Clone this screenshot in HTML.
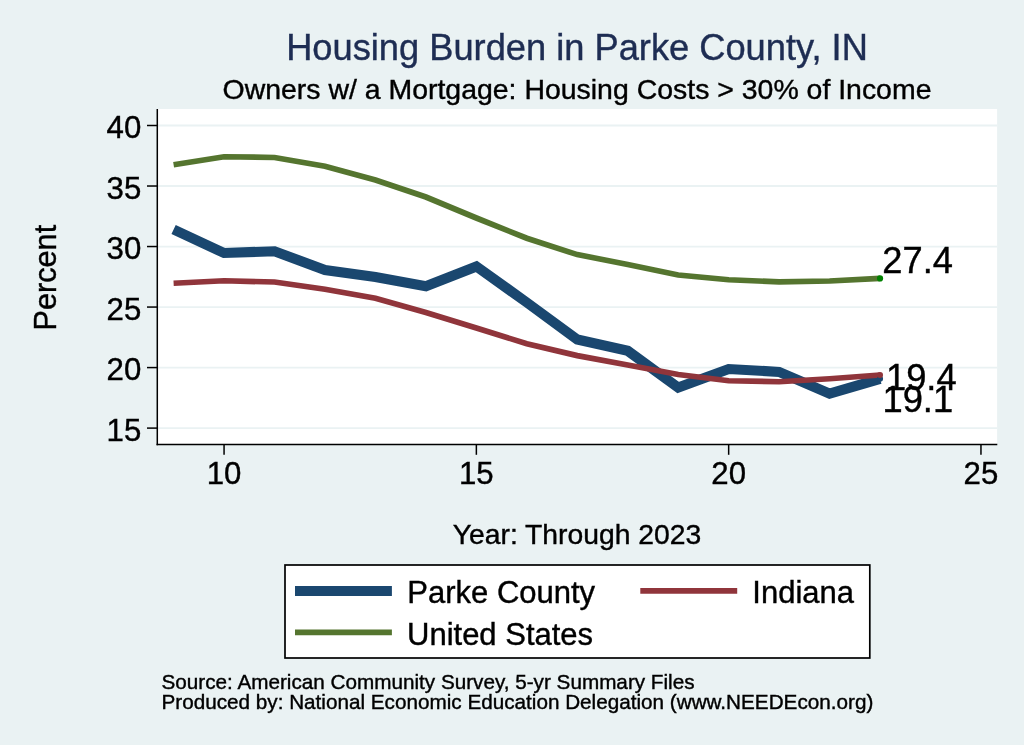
<!DOCTYPE html>
<html lang="en"><head><meta charset="utf-8"><title>Housing Burden in Parke County, IN</title>
<style>
html,body{margin:0;padding:0;background:#eaf2f3;}
body{width:1024px;height:745px;overflow:hidden;}
svg{display:block;will-change:transform;font-family:"Liberation Sans",Arial,Helvetica,sans-serif;}
</style></head><body>
<svg width="1024" height="745" viewBox="0 0 1024 745">
<rect x="0" y="0" width="1024" height="745" fill="#eaf2f3"/>
<rect x="157.3" y="109" width="839.8" height="335.4" fill="#ffffff"/>
<line x1="158" x2="997" y1="125.5" y2="125.5" stroke="#eaf2f3" stroke-width="1.8"/><line x1="158" x2="997" y1="186.02" y2="186.02" stroke="#eaf2f3" stroke-width="1.8"/><line x1="158" x2="997" y1="246.54" y2="246.54" stroke="#eaf2f3" stroke-width="1.8"/><line x1="158" x2="997" y1="307.06" y2="307.06" stroke="#eaf2f3" stroke-width="1.8"/><line x1="158" x2="997" y1="367.58" y2="367.58" stroke="#eaf2f3" stroke-width="1.8"/><line x1="158" x2="997" y1="428.1" y2="428.1" stroke="#eaf2f3" stroke-width="1.8"/>
<polyline points="173.6,164.75 224.06,156.75 274.52,157.5 324.98,166.25 375.44,180 425.9,197 476.36,218 526.82,238.25 577.28,254.6 627.74,264.5 678.2,275 728.66,279.75 779.12,281.9 829.58,281 880.04,278.4" fill="none" stroke="#55752f" stroke-width="5.7" stroke-linejoin="miter"/>
<polyline points="173.6,229.5 224.06,253 274.52,251.25 324.98,270 375.44,277 425.9,286.25 476.36,266.5 526.82,302.5 577.28,339.5 627.74,350.8 678.2,387.5 728.66,369 779.12,371.9 829.58,393.7 880.04,378.8" fill="none" stroke="#1a476f" stroke-width="10.1" stroke-linejoin="miter"/>
<polyline points="173.6,283.25 224.06,280.75 274.52,282 324.98,289.25 375.44,298.25 425.9,312.5 476.36,328 526.82,343.75 577.28,355.6 627.74,365 678.2,374.5 728.66,380.75 779.12,381.75 829.58,378.75 880.04,375" fill="none" stroke="#90353b" stroke-width="5.7" stroke-linejoin="miter"/>
<circle cx="880.04" cy="378.8" r="3" fill="#1a476f"/>
<circle cx="880.04" cy="375" r="3" fill="#90353b"/>
<circle cx="880.04" cy="278.4" r="3.1" fill="#008000"/>
<line x1="157.3" x2="157.3" y1="109" y2="445.15" stroke="#000" stroke-width="1.5"/>
<line x1="156.55" x2="997.3" y1="444.4" y2="444.4" stroke="#000" stroke-width="1.5"/>
<line x1="147" x2="157.3" y1="125.5" y2="125.5" stroke="#000" stroke-width="1.5"/><line x1="147" x2="157.3" y1="186.02" y2="186.02" stroke="#000" stroke-width="1.5"/><line x1="147" x2="157.3" y1="246.54" y2="246.54" stroke="#000" stroke-width="1.5"/><line x1="147" x2="157.3" y1="307.06" y2="307.06" stroke="#000" stroke-width="1.5"/><line x1="147" x2="157.3" y1="367.58" y2="367.58" stroke="#000" stroke-width="1.5"/><line x1="147" x2="157.3" y1="428.1" y2="428.1" stroke="#000" stroke-width="1.5"/><line x1="224.06" x2="224.06" y1="444.4" y2="454.8" stroke="#000" stroke-width="1.5"/><line x1="476.36" x2="476.36" y1="444.4" y2="454.8" stroke="#000" stroke-width="1.5"/><line x1="728.66" x2="728.66" y1="444.4" y2="454.8" stroke="#000" stroke-width="1.5"/><line x1="980.96" x2="980.96" y1="444.4" y2="454.8" stroke="#000" stroke-width="1.5"/>
<g fill="#000" stroke="#000" stroke-width="0.4">
<text x="141.3" y="138.3" text-anchor="end" font-size="31.2">40</text><text x="141.3" y="198.82000000000002" text-anchor="end" font-size="31.2">35</text><text x="141.3" y="259.34" text-anchor="end" font-size="31.2">30</text><text x="141.3" y="319.86" text-anchor="end" font-size="31.2">25</text><text x="141.3" y="380.38" text-anchor="end" font-size="31.2">20</text><text x="141.3" y="440.90000000000003" text-anchor="end" font-size="31.2">15</text>
<text x="224.06" y="484.2" text-anchor="middle" font-size="31.2">10</text><text x="476.36" y="484.2" text-anchor="middle" font-size="31.2">15</text><text x="728.66" y="484.2" text-anchor="middle" font-size="31.2">20</text><text x="980.96" y="484.2" text-anchor="middle" font-size="31.2">25</text>
<text x="882.3" y="273" font-size="36.3">27.4</text>
<text x="886" y="389.7" font-size="36.3">19.4</text>
<text x="882.5" y="412" font-size="36.3">19.1</text>
<text x="577" y="98.7" text-anchor="middle" font-size="28.45">Owners w/ a Mortgage: Housing Costs &gt; 30% of Income</text>
<text x="577" y="543.7" text-anchor="middle" font-size="28.3">Year: Through 2023</text>
<text transform="translate(55.9,277.7) rotate(-90)" text-anchor="middle" font-size="30.7">Percent</text>
<text x="161.5" y="688.9" font-size="20.7">Source: American Community Survey, 5-yr Summary Files</text>
<text x="161.5" y="708.8" font-size="20.7">Produced by: National Economic Education Delegation (www.NEEDEcon.org)</text>
</g>
<text x="577" y="60.1" text-anchor="middle" font-size="36.25" fill="#1e2d53" stroke="#1e2d53" stroke-width="0.4">Housing Burden in Parke County, IN</text>
<rect x="285" y="565" width="584.8" height="93" fill="#ffffff" stroke="#000" stroke-width="1.7"/>
<line x1="295" x2="391.9" y1="590.95" y2="590.95" stroke="#1a476f" stroke-width="10.1"/>
<line x1="640.3" x2="737.2" y1="590.95" y2="590.95" stroke="#90353b" stroke-width="5.7"/>
<line x1="295" x2="391.9" y1="632.35" y2="632.35" stroke="#55752f" stroke-width="5.7"/>
<g fill="#000" stroke="#000" stroke-width="0.4" font-size="31.0">
<text x="407.3" y="603.4">Parke County</text>
<text x="752.3" y="603.4">Indiana</text>
<text x="407" y="645.0">United States</text>
</g>
</svg>
</body></html>
